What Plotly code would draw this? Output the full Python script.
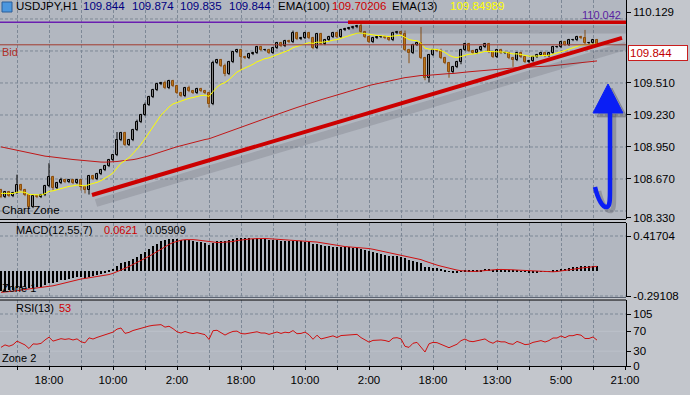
import plotly.graph_objects as go

# ---------------- data ----------------
OPEN = [
    108.574, 108.513, 108.556, 108.521, 108.548, 108.618, 108.574, 108.530, 108.425, 108.521,
    108.513, 108.530, 108.609, 108.688, 108.591, 108.635, 108.661, 108.644, 108.661, 108.635,
    108.661, 108.600, 108.574, 108.696, 108.670, 108.714, 108.749, 108.784, 108.836, 108.880,
    109.011, 109.073, 108.968, 109.011, 109.099, 109.169, 109.230, 109.318, 109.388, 109.449,
    109.501, 109.510, 109.466, 109.528, 109.484, 109.423, 109.396, 109.466, 109.440, 109.423,
    109.458, 109.440, 109.423, 109.326, 109.685, 109.711, 109.659, 109.589, 109.694, 109.781,
    109.799, 109.738, 109.729, 109.764, 109.773, 109.825, 109.799, 109.799, 109.773, 109.816,
    109.860, 109.834, 109.878, 109.869, 109.948, 109.895, 109.904, 109.948, 109.904, 109.816,
    109.939, 109.851, 109.886, 109.913, 109.948, 109.913, 109.974, 109.983, 109.991, 110.000,
    110.009, 109.956, 109.913, 109.869, 109.904, 109.913, 109.913, 109.904, 109.886, 109.948,
    109.956, 109.939, 109.799, 109.773, 109.843, 109.860, 109.729, 109.554, 109.755, 109.799,
    109.790, 109.729, 109.685, 109.606, 109.650, 109.694, 109.799, 109.851, 109.790, 109.773,
    109.799, 109.825, 109.851, 109.781, 109.738, 109.799, 109.773, 109.773, 109.729, 109.711,
    109.773, 109.738, 109.694, 109.703, 109.738, 109.755, 109.773, 109.746, 109.773, 109.825,
    109.825, 109.869, 109.843, 109.886, 109.886, 109.913, 109.904, 109.860, 109.860, 109.886,
]
CLOSE = [
    108.513, 108.556, 108.521, 108.548, 108.618, 108.574, 108.530, 108.425, 108.521, 108.513,
    108.530, 108.609, 108.688, 108.591, 108.635, 108.661, 108.644, 108.661, 108.635, 108.661,
    108.600, 108.574, 108.696, 108.670, 108.714, 108.749, 108.784, 108.836, 108.880, 109.011,
    109.073, 108.968, 109.011, 109.099, 109.169, 109.230, 109.318, 109.388, 109.449, 109.501,
    109.510, 109.466, 109.528, 109.484, 109.423, 109.396, 109.466, 109.440, 109.423, 109.458,
    109.440, 109.423, 109.326, 109.685, 109.711, 109.659, 109.589, 109.694, 109.781, 109.799,
    109.738, 109.729, 109.764, 109.773, 109.825, 109.799, 109.799, 109.773, 109.816, 109.860,
    109.834, 109.878, 109.869, 109.948, 109.895, 109.904, 109.948, 109.904, 109.816, 109.939,
    109.851, 109.886, 109.913, 109.948, 109.913, 109.974, 109.983, 109.991, 110.000, 110.009,
    109.956, 109.913, 109.869, 109.904, 109.913, 109.913, 109.904, 109.886, 109.948, 109.956,
    109.939, 109.799, 109.773, 109.843, 109.860, 109.729, 109.554, 109.755, 109.799, 109.790,
    109.729, 109.685, 109.606, 109.650, 109.694, 109.799, 109.851, 109.790, 109.773, 109.799,
    109.825, 109.851, 109.781, 109.738, 109.799, 109.773, 109.773, 109.729, 109.711, 109.773,
    109.738, 109.694, 109.703, 109.738, 109.755, 109.773, 109.746, 109.773, 109.825, 109.825,
    109.869, 109.843, 109.886, 109.886, 109.913, 109.904, 109.860, 109.860, 109.886, 109.844,
]
# wick lengths beyond the body, in pips
WICK_UP = [
    1, 1, 1, 1, 9, 1, 1, 1, 1, 1,
    1, 1, 12, 1, 1, 2, 1, 1, 1, 1,
    1, 1, 1, 1, 1, 1, 1, 1, 1, 7,
    1, 1, 1, 1, 2, 1, 2, 1, 1, 1,
    1, 2, 1, 1, 1, 1, 1, 2, 1, 1,
    1, 1, 1, 2, 1, 1, 2, 1, 1, 1,
    1, 1, 1, 1, 1, 1, 1, 1, 1, 1,
    1, 1, 1, 2, 1, 1, 1, 1, 1, 1,
    1, 1, 1, 1, 1, 1, 1, 1, 1, 1,
    4, 1, 1, 1, 1, 1, 1, 1, 1, 1,
    1, 3, 1, 1, 1, 14, 1, 1, 1, 1,
    2, 1, 1, 1, 1, 1, 1, 1, 1, 1,
    1, 1, 1, 1, 1, 1, 1, 1, 1, 1,
    1, 1, 1, 1, 1, 1, 1, 1, 1, 1,
    1, 1, 1, 1, 1, 1, 7, 1, 1, 1,
]
WICK_DN = [
    1, 1, 1, 1, 1, 1, 1, 1, 1, 1,
    1, 1, 1, 2, 1, 1, 1, 1, 1, 1,
    3, 3, 4, 1, 1, 1, 1, 1, 1, 1,
    1, 1, 1, 1, 1, 1, 1, 1, 1, 1,
    1, 1, 1, 1, 1, 1, 1, 1, 1, 1,
    1, 1, 3, 1, 1, 1, 2, 1, 1, 1,
    11, 1, 1, 1, 1, 1, 1, 1, 1, 1,
    1, 1, 1, 1, 1, 1, 1, 1, 1, 1,
    1, 1, 1, 1, 1, 1, 1, 1, 1, 1,
    1, 1, 1, 1, 1, 1, 1, 1, 1, 1,
    1, 1, 9, 1, 1, 1, 2, 4, 1, 1,
    1, 1, 5, 1, 1, 2, 1, 1, 1, 1,
    1, 1, 1, 1, 1, 1, 1, 1, 6, 1,
    1, 1, 1, 1, 1, 1, 1, 1, 1, 1,
    1, 1, 1, 1, 1, 1, 1, 1, 1, 1,
]
PIP = 0.01

TIME_LABELS = ["18:00", "10:00", "2:00", "18:00", "10:00", "2:00", "18:00", "13:00", "5:00", "21:00"]
PRICE_TICKS = [110.129, 109.510, 109.230, 108.950, 108.670, 108.330]
PRICE_GRID = [110.070, 109.790, 109.510, 109.230, 108.950, 108.670, 108.390]
MACD_TICKS = [0.41704, -0.29108]
MACD_TICK_TEXT = ["0.41704", "-0.29108"]
RSI_TICKS = [105, 70, 30, 0]
RSI_LEVELS = [70, 30]

RESIST_PRICE = 110.042
RESIST_START = 86.75
BID_PRICE = 109.844
TREND_X = [22.75, 155.25]
TREND_Y = [108.530, 109.904]

# indicator seeds (values read at the left edge of the picture)
EMA100_SEED = 108.96
EMA13_SEED = 108.55
MACD_FAST_SEED = 108.56
MACD_SLOW_SEED = 108.80
MACD_PREV = -0.25
RSI_GAIN_SEED = 0.017
RSI_LOSS_SEED = 0.023

HEADER = [
    ("USDJPY,H1", 14, "#000000"), ("109.844", 81, "#000080"), ("109.874", 130, "#000080"),
    ("109.835", 178, "#000080"), ("109.844", 227, "#000080"), ("EMA(100)", 276, "#000000"),
    ("109.70206", 330, "#CC0000"), ("EMA(13)", 390, "#000000"), ("109.84989", 448, "#FFFF00"),
]

# ---------------- helpers ----------------
N = len(CLOSE)
X = list(range(N))
HIGH = [max(o, c) + u * PIP for o, c, u in zip(OPEN, CLOSE, WICK_UP)]
LOW = [min(o, c) - d * PIP for o, c, d in zip(OPEN, CLOSE, WICK_DN)]


def ema(vals, n, seed):
    a = 2.0 / (n + 1)
    e = seed
    out = []
    for v in vals:
        e = e + a * (v - e)
        out.append(e)
    return out


ema100 = ema(CLOSE, 100, EMA100_SEED)
ema13 = ema(CLOSE, 13, EMA13_SEED)
macd = [f - s for f, s in zip(ema(CLOSE, 12, MACD_FAST_SEED), ema(CLOSE, 55, MACD_SLOW_SEED))]
padded = [MACD_PREV] * 6 + macd
signal = [sum(padded[i:i + 7]) / 7 for i in range(N)]

rsi = []
ag, al = RSI_GAIN_SEED, RSI_LOSS_SEED
prev = OPEN[0]
for c in CLOSE:
    d = c - prev
    ag = (ag * 12 + max(d, 0)) / 13
    al = (al * 12 + max(-d, 0)) / 13
    rsi.append(100 * ag / (ag + al))
    prev = c

PW, PH = 626, 366  # plot area in pixels


def pxp(px):
    return px / PW


def pyp(py):
    return (PH - py) / PH


XR = [-0.25, 156.25]
Y1 = [108.320, 110.236]
Y2 = [-0.3029, 0.5705]
Y3 = [0, 133.3]

FONT = "Liberation Sans"
GRIDC = "#7D8896"
DASH = "3px,2px"
BG = "#B2B7C0"

fig = go.Figure()

# candles: wicks
for bull, col in [(True, "#000000"), (False, "#8A4E10")]:
    wx, wy = [], []
    for i in X:
        if (CLOSE[i] >= OPEN[i]) == bull:
            wx += [i, i, None]
            wy += [LOW[i], HIGH[i], None]
    fig.add_trace(go.Scatter(x=wx, y=wy, mode="lines", line=dict(color=col, width=1),
                             xaxis="x", yaxis="y", hoverinfo="skip"))
# candles: bodies
for bull, fill, edge in [(True, "#FFFFFF", "#000000"), (False, "#E89A22", "#8A4E10")]:
    bx, base, hgt = [], [], []
    for i in X:
        if (CLOSE[i] >= OPEN[i]) == bull:
            bx.append(i)
            base.append(min(OPEN[i], CLOSE[i]))
            hgt.append(max(abs(CLOSE[i] - OPEN[i]), 0.0015))
    fig.add_trace(go.Bar(x=bx, y=hgt, base=base, width=0.55, marker=dict(color=fill, line=dict(color=edge, width=1)),
                         xaxis="x", yaxis="y", hoverinfo="skip"))

fig.add_trace(go.Scatter(x=X, y=ema100, mode="lines", line=dict(color="#C01818", width=1), xaxis="x", yaxis="y"))
fig.add_trace(go.Scatter(x=X, y=ema13, mode="lines", line=dict(color="#FFFF00", width=1), xaxis="x", yaxis="y"))

fig.add_trace(go.Bar(x=X, y=macd, width=0.25, marker=dict(color="#000000", line=dict(width=0)), xaxis="x2", yaxis="y2"))
fig.add_trace(go.Scatter(x=X, y=signal, mode="lines", line=dict(color="#D01010", width=1), xaxis="x2", yaxis="y2"))

fig.add_trace(go.Scatter(x=X, y=rsi, mode="lines", line=dict(color="#D01010", width=1), xaxis="x3", yaxis="y3"))

shapes = []
# horizontal grids
for p in PRICE_GRID:
    shapes.append(dict(type="line", xref="paper", yref="y", x0=0, x1=1, y0=p, y1=p,
                       line=dict(color=GRIDC, width=1, dash=DASH), layer="below"))
for v in MACD_TICKS:
    shapes.append(dict(type="line", xref="paper", yref="y2", x0=0, x1=1, y0=v, y1=v,
                       line=dict(color=GRIDC, width=1, dash=DASH), layer="below"))
shapes.append(dict(type="line", xref="paper", yref="y3", x0=0, x1=1, y0=105, y1=105,
                   line=dict(color=GRIDC, width=1, dash=DASH), layer="below"))
for v in RSI_LEVELS:
    shapes.append(dict(type="line", xref="paper", yref="y3", x0=0, x1=1, y0=v, y1=v,
                       line=dict(color="#BCC1C9", width=1), layer="below"))

# bid line
shapes.append(dict(type="line", xref="paper", yref="y", x0=0, x1=1, y0=BID_PRICE, y1=BID_PRICE,
                   line=dict(color="#A23A2E", width=1)))
# purple horizontal line
shapes.append(dict(type="line", xref="paper", yref="y", x0=0, x1=1, y0=RESIST_PRICE, y1=RESIST_PRICE,
                   line=dict(color="#6A1FB0", width=1.5)))
# shadows
shapes.append(dict(type="line", xref="x", yref="y", x0=RESIST_START + 0.5, x1=XR[1], y0=RESIST_PRICE - 0.065,
                   y1=RESIST_PRICE - 0.065, line=dict(color="rgba(70,72,82,0.18)", width=8)))
shapes.append(dict(type="line", xref="x", yref="y", x0=TREND_X[0] + 1, x1=TREND_X[1] + 1, y0=TREND_Y[0] - 0.07,
                   y1=TREND_Y[1] - 0.07, line=dict(color="rgba(70,72,82,0.18)", width=8)))
# red lines
shapes.append(dict(type="line", xref="x", yref="y", x0=RESIST_START, x1=XR[1], y0=RESIST_PRICE, y1=RESIST_PRICE,
                   line=dict(color="#CC0000", width=3.5)))
shapes.append(dict(type="line", xref="x", yref="y", x0=TREND_X[0], x1=TREND_X[1], y0=TREND_Y[0], y1=TREND_Y[1],
                   line=dict(color="#CC0000", width=4)))


def ppath(pts, close=False):
    s = ""
    for cmd, coords in pts:
        s += cmd + " " + " ".join(f"{pxp(a):.5f},{pyp(b):.5f}" for a, b in coords) + " "
    return s + ("Z" if close else "")


def arrow(dx, dy, col):
    shaft = ppath([("M", [(595 + dx, 187 + dy)]),
                   ("C", [(598 + dx, 200 + dy), (603 + dx, 208 + dy), (607 + dx, 207 + dy)]),
                   ("C", [(610 + dx, 206 + dy), (610 + dx, 200 + dy), (610 + dx, 190 + dy)]),
                   ("L", [(610 + dx, 110 + dy)])])
    head = ppath([("M", [(593 + dx, 113 + dy)]), ("L", [(623 + dx, 113 + dy)]), ("L", [(608 + dx, 84 + dy)])], True)
    return [dict(type="path", xref="paper", yref="paper", path=shaft, line=dict(color=col, width=4.5)),
            dict(type="path", xref="paper", yref="paper", path=head, fillcolor=col, line=dict(color=col, width=1))]


shapes += arrow(4, 4, "rgba(60,62,72,0.28)")
shapes += arrow(0, 0, "#0A1EF5")

# panel borders
for py in [219.5, 222.5, 300.0]:
    shapes.append(dict(type="line", xref="paper", yref="paper", x0=0, x1=1, y0=pyp(py), y1=pyp(py),
                       line=dict(color="#000000", width=1)))
shapes.append(dict(type="line", xref="paper", yref="paper", x0=0, x1=1, y0=pyp(297.5), y1=pyp(297.5),
                   line=dict(color="#5A6270", width=1)))
# icon
shapes.append(dict(type="rect", xref="paper", yref="paper", x0=pxp(2), x1=pxp(12), y0=pyp(12), y1=pyp(2),
                   fillcolor="#4C97DE", line=dict(color="#2B5E9A", width=1)))
shapes.append(dict(type="path", xref="paper", yref="paper",
                   path=ppath([("M", [(5.5, 4)]), ("L", [(8.5, 4), (8.5, 7), (10, 7), (7, 10.5), (4, 7), (5.5, 7)])], True),
                   fillcolor="#FFFFFF", line=dict(width=0)))

ann = []


def txt(s, px, py, col="#000000", size=11, anchor="left"):
    ann.append(dict(text=s, x=pxp(px), y=pyp(py), xref="paper", yref="paper", xanchor=anchor, yanchor="middle",
                    showarrow=False, font=dict(family=FONT, size=size, color=col)))


for s, px, col in HEADER:
    txt(s, px, 6, col, 11.5)
txt("Bid", 0, 52, "#B03028", 11)
txt("110.042", 623, 15, "#5A1FA0", 11, "right")
txt("Chart Zone", 0, 210, "#000000", 11.5)
txt("MACD(12,55,7)", 14, 230, "#000000", 11)
txt("0.0621", 102, 230, "#CC0000", 11)
txt("0.05909", 144, 230, "#000000", 11)
txt("Zone 1", 0, 288, "#000000", 11)
txt("RSI(13)", 14, 308, "#000000", 11)
txt("53", 57, 308, "#CC0000", 11)
txt("Zone 2", 0, 358, "#000000", 11)
ann.append(dict(text=f"{BID_PRICE:.3f}", x=pxp(628), y=BID_PRICE, xref="paper", yref="y", xanchor="left",
                yanchor="top", showarrow=False, width=56, align="left", bgcolor="#FFFFFF", bordercolor="#C81E1E",
                borderwidth=1, borderpad=1, font=dict(family=FONT, size=11.5, color="#C00000")))

GRID_X = [4 + 8 * k for k in range(20)]
tick_text = [TIME_LABELS[k // 2] if k % 2 else "" for k in range(20)]

xcommon = dict(range=XR, domain=[0, 1], tickvals=GRID_X, showgrid=True, gridcolor=GRIDC, griddash=DASH,
               gridwidth=1, zeroline=False, fixedrange=True)
ycommon = dict(side="right", showgrid=False, zeroline=False, ticks="outside", ticklen=4, tickcolor="#000000",
               showline=True, linecolor="#000000", linewidth=1, tickfont=dict(family=FONT, size=11.5, color="#000000"),
               fixedrange=True)

fig.update_layout(
    width=690, height=395, margin=dict(l=0, r=64, t=0, b=29),
    paper_bgcolor="#C3C6CC", plot_bgcolor=BG, showlegend=False, barmode="overlay", bargap=0,
    font=dict(family=FONT, size=11, color="#000000"),
    xaxis=dict(anchor="y", showticklabels=False, ticks="", **xcommon),
    xaxis2=dict(anchor="y2", showticklabels=False, ticks="", **xcommon),
    xaxis3=dict(anchor="y3", showticklabels=True, ticktext=tick_text, ticks="outside", ticklen=3,
                tickcolor="#000000", showline=True, linecolor="#000000",
                tickfont=dict(family=FONT, size=11.5, color="#000000"), **xcommon),
    yaxis=dict(anchor="x", domain=[pyp(219), pyp(0)], range=Y1, tickvals=PRICE_TICKS,
               ticktext=[f"{v:.3f}" for v in PRICE_TICKS], **ycommon),
    yaxis2=dict(anchor="x2", domain=[pyp(297), pyp(223)], range=Y2, tickvals=MACD_TICKS, ticktext=MACD_TICK_TEXT,
                **ycommon),
    yaxis3=dict(anchor="x3", domain=[pyp(366), pyp(300)], range=Y3, tickvals=RSI_TICKS,
                ticktext=[str(v) for v in RSI_TICKS], **ycommon),
    shapes=shapes, annotations=ann,
)

fig.write_html("out.html", config={"displayModeBar": False},
               post_script="document.body.style.margin='0';document.body.style.overflow='hidden';")
